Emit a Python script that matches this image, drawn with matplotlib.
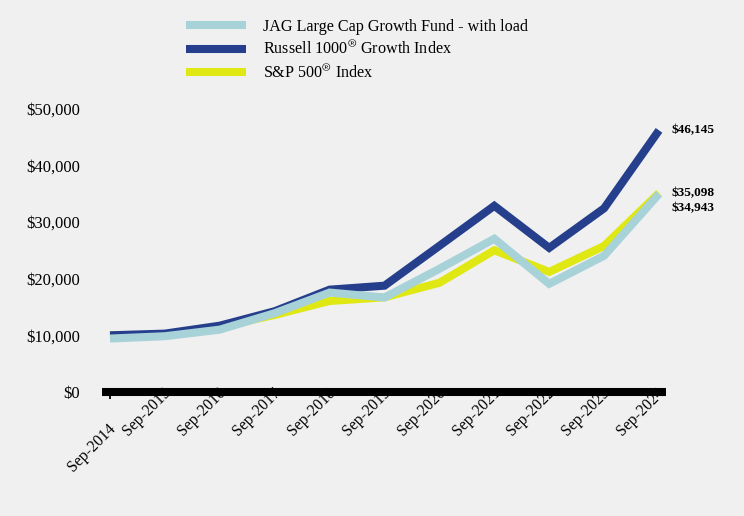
import matplotlib
matplotlib.use("Agg")
import matplotlib.pyplot as plt
from matplotlib.lines import Line2D

plt.rcParams['font.family'] = ['Liberation Serif', 'DejaVu Serif']
plt.rcParams['mathtext.fontset'] = 'stix'

years = ["Sep-2014", "Sep-2015", "Sep-2016", "Sep-2017", "Sep-2018", "Sep-2019",
         "Sep-2020", "Sep-2021", "Sep-2022", "Sep-2023", "Sep-2024"]
jag = [9425, 9840, 11000, 13900, 17540, 16660, 21730, 27030, 19080, 24030, 34943]
russell = [10000, 10300, 11700, 14250, 18050, 18750, 25780, 32840, 25420, 32400, 46145]
sp500 = [10000, 9940, 11470, 13600, 16050, 16700, 19260, 25000, 21180, 25760, 35098]
end_labels = ["$46,145", "$35,098", "$34,943"]
yticks = [0, 10000, 20000, 30000, 40000, 50000]
ytick_labels = ["$0", "$10,000", "$20,000", "$30,000", "$40,000", "$50,000"]
legend_labels = ["JAG Large Cap Growth Fund - with load",
                 r"Russell 1000$^{\circledR}$ Growth Index",
                 r"S&P 500$^{\circledR}$ Index"]

c_jag = "#A6D2D8"
c_rus = "#253F8C"
c_sp = "#DFE812"
bg = "#F0F0F0"

W, H = 744, 516
fig = plt.figure(figsize=(W / 100, H / 100), dpi=100, facecolor=bg)
ax = fig.add_axes([102 / W, (H - 392) / H, (666 - 102) / W, (392 - 108.5) / H])
ax.set_facecolor(bg)

x = list(range(len(years)))
lw = 5.8
kw = dict(solid_capstyle='butt', solid_joinstyle='miter', clip_on=False)
ax.plot(x, sp500, color=c_sp, lw=lw, zorder=3, **kw)
ax.plot(x, russell, color=c_rus, lw=lw, zorder=4, **kw)
ax.plot(x, jag, color=c_jag, lw=lw, zorder=5, **kw)

ax.set_xlim(-8 / 54.9, 10 + 7 / 54.9)
ax.set_ylim(0, 50000)

for s in ['top', 'right', 'left']:
    ax.spines[s].set_visible(False)
ax.spines['bottom'].set_linewidth(5.8)
ax.spines['bottom'].set_color('black')
ax.spines['bottom'].set_capstyle('butt')
ax.spines['bottom'].set_zorder(10)

ax.set_yticks(yticks)
ax.set_yticklabels(ytick_labels, fontsize=12)
ax.tick_params(axis='y', length=0, pad=15.8)
ax.set_xticks([0])
ax.set_xticklabels([""])
ax.tick_params(axis='x', length=5.2, width=1.3, color='black', direction='out')

for i, lab in enumerate(years):
    dx, dy = (-2, -29) if i == 0 else (-2, 7)
    ax.annotate(lab, xy=(i, 0), xycoords='data', xytext=(dx, dy),
                textcoords='offset pixels', rotation=45, rotation_mode='anchor',
                ha='right', va='top', fontsize=11.3, zorder=1, annotation_clip=False)

# end labels
ax.annotate(end_labels[0], xy=(10, russell[-1]), xytext=(12, 0), textcoords='offset pixels',
            ha='left', va='center', fontsize=9.5, fontweight='bold', annotation_clip=False)
ax.annotate(end_labels[1], xy=(10, sp500[-1]), xytext=(12, 0), textcoords='offset pixels',
            ha='left', va='center', fontsize=9.5, fontweight='bold', annotation_clip=False)
ax.annotate(end_labels[2], xy=(10, jag[-1]), xytext=(12, -14), textcoords='offset pixels',
            ha='left', va='center', fontsize=9.5, fontweight='bold', annotation_clip=False)

handles = [Line2D([], [], color=c_jag, lw=lw, solid_capstyle='butt'),
           Line2D([], [], color=c_rus, lw=lw, solid_capstyle='butt'),
           Line2D([], [], color=c_sp, lw=lw, solid_capstyle='butt')]
fig.legend(handles, legend_labels, loc='upper left', bbox_to_anchor=(186 / W, 1 - 19 / H),
           frameon=False, fontsize=11.6, handlelength=3.72, handletextpad=1.05,
           labelspacing=0.37, borderpad=0, borderaxespad=0)

fig.savefig("out.png", dpi=100, facecolor=bg)
